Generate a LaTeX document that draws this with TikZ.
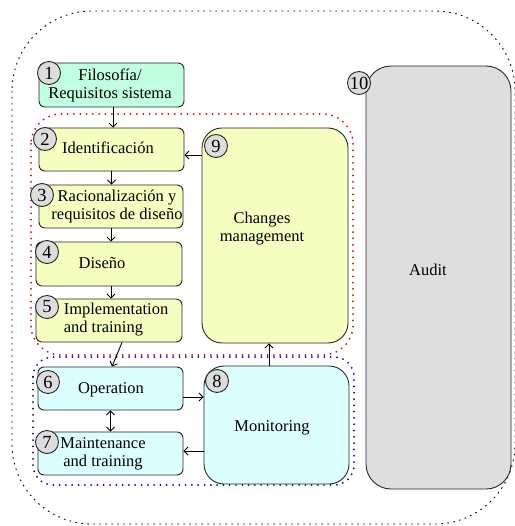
\documentclass[tikz,border=0pt]{standalone}
\usepackage{fontspec}
\setmainfont{Liberation Serif}
\usetikzlibrary{arrows.meta}
\definecolor{mint}{HTML}{C0FFE0}
\definecolor{pale}{HTML}{F5FFC0}
\definecolor{cyanl}{HTML}{DCFFFF}
\definecolor{audg}{HTML}{DEDEDE}
\definecolor{badg}{HTML}{DDDDDD}
\definecolor{edge}{HTML}{262626}
\definecolor{reddot}{HTML}{DD0000}
\definecolor{bluedot}{HTML}{000099}
\begin{document}
\begin{tikzpicture}[x=1pt,y=-1pt,
  every node/.style={font=\fontsize{16.5}{18}\selectfont},
  box/.style={draw=edge,line width=0.9pt,rounded corners=6pt,inner sep=0pt},
  bigbox/.style={box,rounded corners=20pt},
  txt/.style={inner sep=0pt,align=center},
  badge/.style={circle,draw=edge,line width=0.9pt,fill=badg,inner sep=0pt,minimum size=23pt,font=\fontsize{18.5}{20}\selectfont},
  arr/.style={-{Straight Barb[length=4pt,width=8pt]},line width=0.9pt},
  darr/.style={{Straight Barb[length=4pt,width=8pt]}-{Straight Barb[length=4pt,width=8pt]},line width=0.9pt},
  outerdot/.style={line width=0.9pt,dash pattern=on 1.6pt off 4.4pt},
  groupdot/.style={line width=2pt,line cap=round,dash pattern=on 0pt off 6.3pt}]
\useasboundingbox (0,0) rectangle (514,526);
% outer group
\draw[outerdot,rounded corners=80pt] (12,11) rectangle (515,524);
% group outlines
\draw[groupdot,draw=reddot,rounded corners=30pt] (31,114) rectangle (353,355);
\draw[groupdot,draw=bluedot,rounded corners=20pt] (33,357) rectangle (354,485);
% boxes
\node[box,fill=mint,minimum width=145pt,minimum height=44pt] (b1) at (111.5,85) {};
\node[box,fill=pale,minimum width=145pt,minimum height=43pt] (b2) at (111.5,149.5) {};
\node[box,fill=pale,minimum width=144pt,minimum height=43pt] (b3) at (111,206.5) {};
\node[box,fill=pale,minimum width=146pt,minimum height=44pt] (b4) at (109,264) {};
\node[box,fill=pale,minimum width=146pt,minimum height=43pt] (b5) at (109,320.5) {};
\node[box,fill=cyanl,minimum width=145pt,minimum height=43pt] (b6) at (110.5,388.5) {};
\node[box,fill=cyanl,minimum width=145pt,minimum height=43pt] (b7) at (110.5,453.5) {};
\node[bigbox,fill=cyanl,minimum width=145pt,minimum height=118pt] (b8) at (276.5,425) {};
\node[bigbox,fill=pale,minimum width=146pt,minimum height=215pt] (b9) at (275,235.5) {};
\node[bigbox,rounded corners=25pt,fill=audg,minimum width=145pt,minimum height=423pt] (b10) at (438.5,277.5) {};
% texts
\node[txt] (t1) at (110,85) {Filosofía/\\Requisitos sistema};
\node[txt] (t2) at (108,148) {Identificación};
\node[txt] (t3) at (117,207) {Racionalización y\\requisitos de diseño};
\node[txt] (t4) at (102,263) {Diseño};
\node[txt,align=left] (t5) at (116,320) {Implementation\\and training};
\node[txt] (t6) at (111,390) {Operation};
\node[txt] (t7) at (103,454) {Maintenance\\and training};
\node[txt] (t8) at (272,428) {Monitoring};
\node[txt] (t9) at (262,229) {Changes\\management};
\node[txt] (t10) at (428,270) {Audit};
% badges
\node[badge] (n1) at (49,73) {1};
\node[badge] (n2) at (45,139) {2};
\node[badge] (n3) at (42,195) {3};
\node[badge] (n4) at (47,252) {4};
\node[badge] (n5) at (47,307) {5};
\node[badge] (n6) at (48,382) {6};
\node[badge] (n7) at (47,442) {7};
\node[badge] (n8) at (217,381) {8};
\node[badge] (n9) at (216,146) {9};
\node[badge] (n10) at (359,83) {10};
% connectors
\draw[arr] ([xshift=1.5pt]b1.south) -- ([xshift=1.5pt]b1.south |- b2.north);
\draw[arr] (b2.south) -- (b2.south |- b3.north);
\draw[arr] (b3.south) -- (b3.south |- b4.north);
\draw[arr] ([xshift=2pt]b4.south) -- ([xshift=2pt]b4.south |- b5.north);
\draw[arr] ([xshift=13pt]b5.south) -- ([xshift=1.5pt]b6.north);
\draw[darr] (b6.south) -- (b7.north);
\draw[arr] ([yshift=-8.5pt]b6.east) -- ([yshift=-8.5pt]b6.east -| b8.west);
\draw[arr] ([yshift=2.5pt]b7.east -| b8.west) -- ([yshift=2.5pt]b7.east);
\draw[arr] ([xshift=-7.5pt]b8.north) -- ([xshift=-7.5pt]b8.north |- b9.south);
\draw[arr] ([yshift=-5.5pt]b2.east -| b9.west) -- ([yshift=-5.5pt]b2.east);
\end{tikzpicture}
\end{document}
